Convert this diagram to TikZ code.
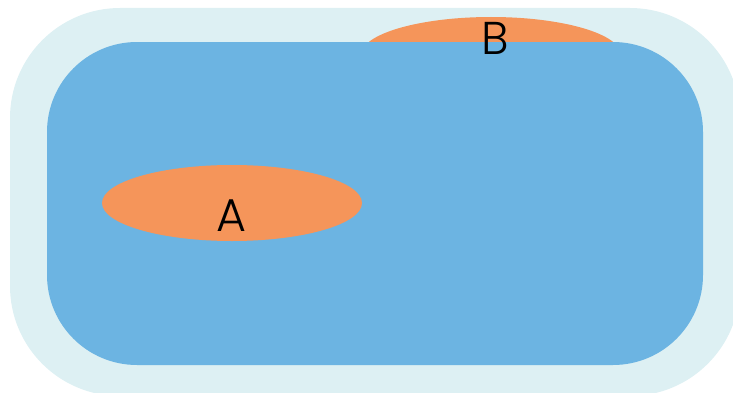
\documentclass[tikz,border=0pt]{standalone}
\usepackage{fontspec}
\newfontfamily\lblfont{Poppins Light}
\usepackage{xcolor}
\usepackage{tikz}
\usetikzlibrary{shapes.geometric}

\definecolor{paleblue}{RGB}{221,240,243}
\definecolor{setblue}{RGB}{108,180,226}
\definecolor{setorange}{RGB}{245,149,90}

\begin{document}
\begin{tikzpicture}[
x=1pt,
y=1pt,
universe/.style={fill=paleblue,draw=none,rounded corners=110pt},
bluearea/.style={fill=setblue,draw=none,rounded corners=90pt},
subset/.style={ellipse,fill=setorange,draw=none,minimum width=260pt,minimum height=76pt,inner sep=0pt},
lbl/.style={font=\lblfont\fontsize{46}{46}\selectfont,inner sep=0pt,text=black}
]
\useasboundingbox (0,0) rectangle (733,392);
\fill[universe] (10,-4) rectangle (740,384);
\node[subset] (setB) at (491,337) {};
\fill[bluearea] (47,27) rectangle (703,350);
\node[subset] (setA) at (232,189) {};
\node[lbl] (labA) at (231,176) {A};
\node[lbl] (labB) at (495,354) {B};
\end{tikzpicture}
\end{document}
